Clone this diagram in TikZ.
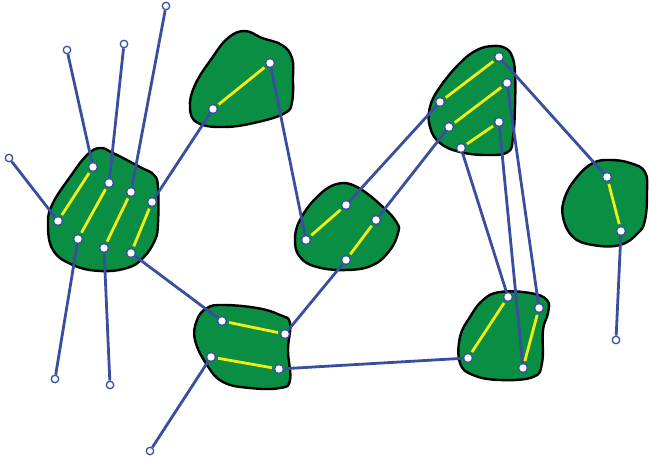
\documentclass[tikz,border=0pt]{standalone}
\usetikzlibrary{backgrounds}
\definecolor{zgreen}{HTML}{098E44}
\definecolor{zblue}{HTML}{3A4EA0}
\definecolor{zyellow}{HTML}{F4EC12}
\tikzset{
  % zona verde
  zone/.style={draw=black, line width=2.4pt, fill=zgreen},
  % porta sul bordo della zona
  port/.style={circle, draw=zblue, fill=white, line width=1.3pt, minimum size=9pt, inner sep=0pt},
  % estremo libero
  stub/.style={port, minimum size=7.5pt},
  % collegamenti
  link/.style={zblue, line width=2.8pt},
  wire/.style={zyellow, line width=2.8pt, shorten <=2pt, shorten >=2pt},
}
\begin{document}
\begin{tikzpicture}[x=1pt, y=-1pt]
  \useasboundingbox (0,0) rectangle (649,459);
  % porte della zona A
  \node[port] (a1) at (93,167) {};
  \node[port] (a2) at (109,183) {};
  \node[port] (a3) at (131,192) {};
  \node[port] (a4) at (152,202) {};
  \node[port] (a5) at (58,221) {};
  \node[port] (a6) at (78,239) {};
  \node[port] (a7) at (104,248) {};
  \node[port] (a8) at (131,253) {};
  % zona B
  \node[port] (b1) at (213,109) {};
  \node[port] (b2) at (270,63) {};
  % zona C
  \node[port] (c1) at (306,240) {};
  \node[port] (c2) at (346,205) {};
  \node[port] (c3) at (376,220) {};
  \node[port] (c4) at (346,260) {};
  % zona D
  \node[port] (d1) at (499,57) {};
  \node[port] (d2) at (507,83) {};
  \node[port] (d3) at (440,102) {};
  \node[port] (d4) at (449,127) {};
  \node[port] (d5) at (499,122) {};
  \node[port] (d6) at (461,148) {};
  % zona E
  \node[port] (e1) at (222,321) {};
  \node[port] (e2) at (285,334) {};
  \node[port] (e3) at (211,357) {};
  \node[port] (e4) at (279,369) {};
  % zona F
  \node[port] (f1) at (508,297) {};
  \node[port] (f2) at (539,308) {};
  \node[port] (f3) at (468,358) {};
  \node[port] (f4) at (523,368) {};
  % zona G
  \node[port] (g1) at (607,177) {};
  \node[port] (g2) at (621,231) {};
  % estremi liberi
  \node[stub] (s1) at (9,158) {};
  \node[stub] (s2) at (67,50) {};
  \node[stub] (s3) at (124,44) {};
  \node[stub] (s4) at (166,6) {};
  \node[stub] (s5) at (55,379) {};
  \node[stub] (s6) at (110,385) {};
  \node[stub] (s7) at (150,451) {};
  \node[stub] (s8) at (616,340) {};
  \begin{scope}[on background layer]
    % zone
    \draw[zone] plot[smooth cycle, tension=0.7] coordinates {(100,148) (113,153) (140,167) (154,175) (158,188) (158,223) (155,240) (143,258) (127,268) (100,271) (73,265) (53,250) (48,223) (53,203) (70,177) (87,155)};
    \draw[zone] plot[smooth cycle, tension=0.7] coordinates {(245,31) (262,38) (282,45) (292,58) (293,78) (292,102) (285,113) (258,122) (225,127) (198,123) (190,108) (195,85) (212,58) (228,38)};
    \draw[zone] plot[smooth cycle, tension=0.7] coordinates {(337,184) (357,187) (383,207) (397,223) (398,233) (390,250) (373,265) (347,270) (317,267) (300,257) (295,240) (300,220) (317,197)};
    \draw[zone] plot[smooth cycle, tension=0.7] coordinates {(493,46) (505,48) (512,56) (515,73) (515,107) (513,137) (508,152) (487,155) (460,152) (440,143) (430,127) (430,107) (440,87) (460,63) (477,50)};
    \draw[zone] plot[smooth cycle, tension=0.7] coordinates {(223,305) (257,308) (280,315) (290,323) (288,350) (290,380) (280,388) (250,388) (223,382) (207,365) (195,340) (197,320) (207,308)};
    \draw[zone] plot[smooth cycle, tension=0.7] coordinates {(500,292) (530,293) (547,300) (548,313) (543,330) (542,363) (533,377) (500,380) (473,375) (460,363) (460,337) (470,317) (483,300)};
    \draw[zone] plot[smooth cycle, tension=0.7] coordinates {(610,160) (630,163) (645,172) (647,193) (645,220) (638,233) (620,245) (593,245) (573,237) (563,217) (565,197) (577,177) (593,163)};
    % collegamenti blu
    \draw[link] (a5) -- (s1);
    \draw[link] (a1) -- (s2);
    \draw[link] (a2) -- (s3);
    \draw[link] (a3) -- (s4);
    \draw[link] (a6) -- (s5);
    \draw[link] (a7) -- (s6);
    \draw[link] (a4) -- (b1);
    \draw[link] (a8) -- (e1);
    \draw[link] (b2) -- (c1);
    \draw[link] (c2) -- (d3);
    \draw[link] (c3) -- (d4);
    \draw[link] (c4) -- (e2);
    \draw[link] (d1) -- (g1);
    \draw[link] (d2) -- (f2);
    \draw[link] (d5) -- (f4);
    \draw[link] (d6) -- (f1);
    \draw[link] (e3) -- (s7);
    \draw[link] (e4) -- (f3);
    \draw[link] (g2) -- (s8);
    % collegamenti interni gialli
    \foreach \p/\q in {a5/a1, a6/a2, a7/a3, a8/a4, b1/b2, c1/c2, c4/c3,
        d3/d1, d4/d2, d6/d5, e1/e2, e3/e4, f3/f1, f4/f2, g1/g2}
      \draw[wire] (\p) -- (\q);
  \end{scope}
\end{tikzpicture}
\end{document}
